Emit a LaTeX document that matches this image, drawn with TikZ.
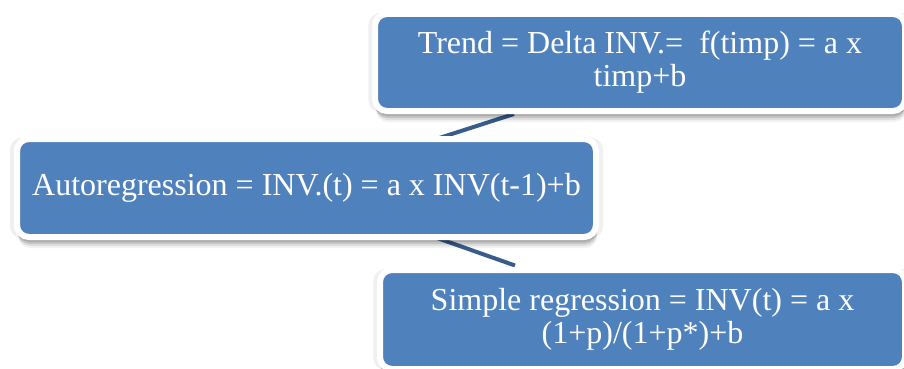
\documentclass[tikz,border=0pt]{standalone}
\usepackage{fontspec}
\setmainfont{Liberation Serif}
\usetikzlibrary{shadows}
\definecolor{boxblue}{RGB}{79,129,189}
\definecolor{linkblue}{RGB}{56,93,140}
\begin{document}
\begin{tikzpicture}[x=1pt,y=-1pt,
  box/.style={rectangle, rounded corners=12pt, fill=boxblue, draw=white, line width=6pt,
    text=white, align=center, inner sep=0pt, font=\fontsize{32}{33}\selectfont,
    drop shadow={shadow xshift=0pt, shadow yshift=0pt, shadow scale=1.025, opacity=0.06, fill=black},
    drop shadow={shadow xshift=1pt, shadow yshift=-11pt, opacity=0.05, fill=black},
    drop shadow={shadow xshift=1pt, shadow yshift=-9pt, opacity=0.08, fill=black},
    drop shadow={shadow xshift=0.5pt, shadow yshift=-7pt, opacity=0.12, fill=black},
    drop shadow={shadow xshift=0.5pt, shadow yshift=-5pt, opacity=0.12, fill=black}},
  conn/.style={draw=linkblue, line width=4pt}]
\useasboundingbox (0,0) rectangle (904,369);
\coordinate (t1) at (430,141);
\coordinate (t2) at (514,114);
\coordinate (b1) at (430,235.5);
\coordinate (b2) at (515,265.5);
\draw[conn] (t1) -- (t2);
\draw[conn] (b1) -- (b2);
\node[box, minimum width=530pt, minimum height=97pt] (top) at (640,62.5)
  {Trend = Delta INV.=\ \ f(timp) = a x\\timp+b};
\node[box, minimum width=579pt, minimum height=98pt] (mid) at (306.5,188)
  {Autoregression = INV.(t) = a x INV(t-1)+b};
\node[box, minimum width=525pt, minimum height=99pt] (bot) at (642.5,319.5)
  {Simple regression = INV(t) = a x\\(1+p)/(1+p*)+b};
\end{tikzpicture}
\end{document}
